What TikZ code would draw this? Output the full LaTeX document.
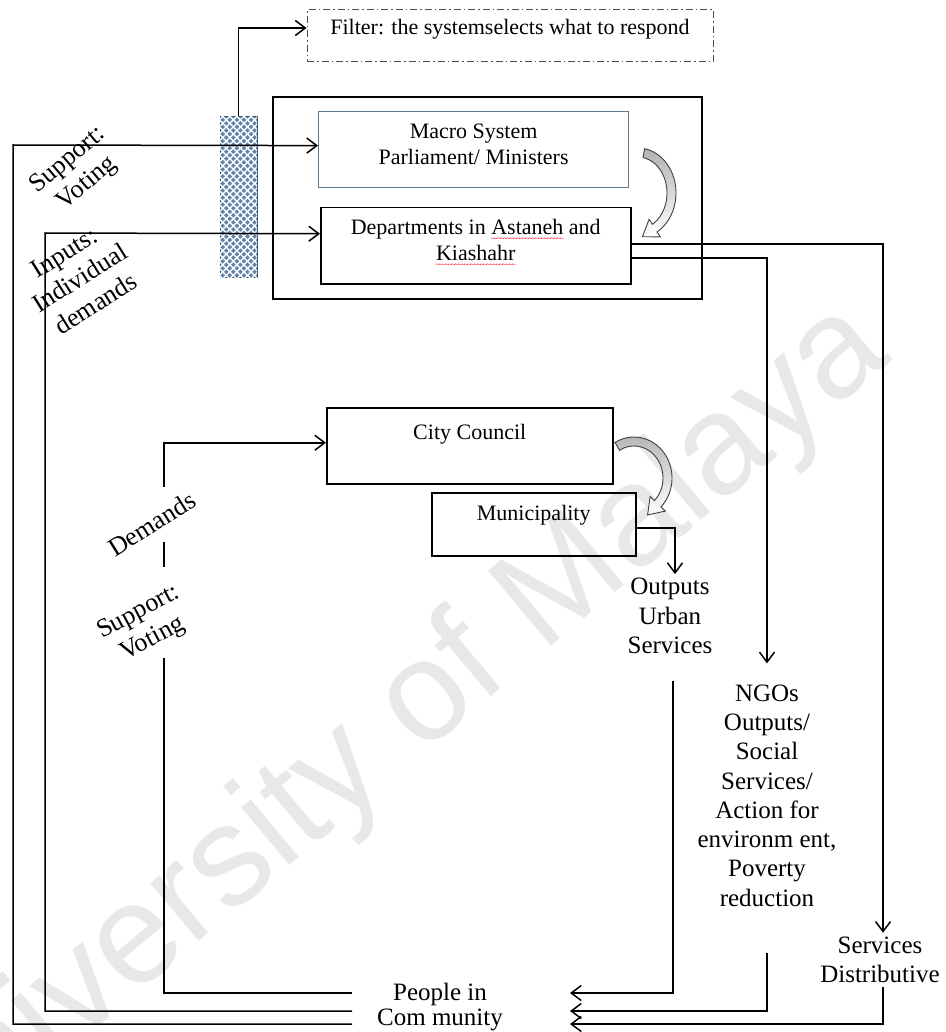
\documentclass[tikz,border=0pt]{standalone}
\usepackage{fontspec}
\setmainfont{Liberation Serif}
\newfontfamily\markfont{Liberation Sans}
\usetikzlibrary{arrows.meta,patterns.meta,calc}

% red spell-check squiggle under a word, made of repeated small tildes
\newcommand\spellwave[1]{\leavevmode\setbox0\hbox{#1}%
  \rlap{\raisebox{-7pt}[0pt][0pt]{\hbox to \wd0{\color{red}\fontsize{8}{8}\selectfont
    \xleaders\hbox{\kern-0.6pt\textasciitilde\kern-0.6pt}\hfill}}}\box0\relax}

\definecolor{barblue}{RGB}{98,132,170}
\definecolor{baredge}{RGB}{52,78,108}
\definecolor{macroedge}{RGB}{92,122,148}

\begin{document}
\begin{tikzpicture}[x=1pt,y=-1pt,
  every node/.style={inner sep=0pt},
  link/.style={line width=1.5pt, black},
  arrowlink/.style={link, -{Straight Barb[length=10pt,width=15pt]}},
  boxtext/.style={font=\fontsize{22}{26.5}\selectfont, align=center, anchor=north west},
  plainbox/.style={boxtext, draw, line width=1.5pt},
  outtext/.style={font=\fontsize{25}{29.3}\selectfont, align=center, inner sep=4pt},
  sidelabel/.style={font=\fontsize{26}{30}\selectfont, align=center},
  filterbox/.style={draw=black!70, line width=1pt,
    dash pattern=on 7pt off 3pt on 1.5pt off 3pt,
    minimum width=406pt, minimum height=52pt, text height=15pt, text depth=17pt,
    font=\fontsize{22}{26}\selectfont},
  filterbar/.style={draw=baredge, line width=1pt, fill=barblue,
    minimum width=37pt, minimum height=160pt,
    postaction={pattern={Lines[angle=45,distance=5pt,line width=1.4pt]}, pattern color=white},
    postaction={pattern={Lines[angle=-45,distance=5pt,line width=1.4pt]}, pattern color=white}},
  bentarrow/.style={draw=black!75, line width=0.9pt, top color=gray!60, bottom color=white}
]
\fill[white] (0,0) rectangle (945,1032);
\useasboundingbox (0,0) rectangle (945,1032);

% faint diagonal watermark
\node[font=\markfont\fontsize{142}{142}\selectfont, text=black!9, rotate=40] (wm) at (380,742) {University of Malaya};

% ---- upper system ----
\node[filterbox] (filter) at (510,36) {Filter: the systemselects what to respond};
\node[draw, line width=1.5pt, minimum width=429pt, minimum height=202pt] (system) at (487.5,198) {};
\node[boxtext, draw=macroedge, line width=1.2pt, minimum width=310pt, text height=53pt, text depth=23pt]
  (macro) at (318,111) {Macro System\\Parliament/ Ministers};
\node[plainbox, minimum width=310pt, text height=53pt, text depth=23pt]
  (dept) at (320,207) {Departments in \spellwave{Astaneh} and\\\spellwave{Kiashahr}};
\node[filterbar] (bar) at (238.5,197) {};

% ---- local system ----
\node[plainbox, minimum width=286pt, text height=32pt, text depth=44pt]
  (city) at (326,407) {City Council};
\node[plainbox, minimum width=204pt, text height=28pt, text depth=35pt]
  (muni) at (431,492) {Municipality};

% ---- outputs and community ----
\node[outtext] (urban) at (670,616) {Outputs\\Urban\\Services};
\node[outtext] (ngo) at (767,795.5) {NGOs\\Outputs/\\Social\\Services/\\Action for\\environm ent,\\Poverty\\reduction};
\node[outtext] (services) at (880,960) {Services\\Distributive};
\node[outtext, font=\fontsize{25}{25}\selectfont] (people) at (440,1007.5) {People in\\Com munity};

% ---- slanted labels ----
\node[sidelabel, rotate=40] (supvote) at (78,172) {Support:\\Voting};
\node[sidelabel, rotate=32] (inputs) at (80,278) {Inputs:\\Individual\\demands};
\node[sidelabel, rotate=32] (demands) at (152,524) {Demands};
\node[sidelabel, rotate=28] (supvote2) at (146,626) {Support:\\Voting};

% line ends beside the community label
\coordinate (L1) at (352,993);
\coordinate (L2) at (352,1011);
\coordinate (L3) at (352,1024);
\coordinate (R1) at (570,993);
\coordinate (R2) at (570,1011);
\coordinate (R3) at (570,1024);

% ---- feedback from the community ----
\draw[arrowlink] (L3) -| (13,145) -- ([yshift=4pt]macro.west);
\draw[arrowlink] (L2) -| (45,233) -- ([yshift=12pt]dept.west);
\draw[link] (L1) -| (164,658);
\draw[link] (164,542) -- (164,567);
\draw[arrowlink] (164,487) |- ([yshift=3pt]city.west);
\draw[arrowlink] (bar.north) |- ([yshift=8pt]filter.west);

% ---- outputs ----
\draw[arrowlink] ([yshift=2pt]dept.east) -| ([xshift=3pt]services.north);
\draw[arrowlink] ([yshift=-12pt]dept.east) -| ([yshift=17pt]ngo.north);
\draw[arrowlink] ([yshift=-3.5pt]muni.east) -| ([xshift=5pt]urban.north);
\draw[arrowlink] ([xshift=3pt,yshift=-23pt]urban.south) |- (R1);
\draw[arrowlink] ([yshift=-42pt]ngo.south) |- (R2);
\draw[arrowlink] ([xshift=3pt]services.south) |- (R3);

% ---- curved block arrows (hand-off inside each level) ----
\path[bentarrow] (644.6,148.7) arc[start angle=-80,end angle=60,x radius=38,y radius=45]
  -- (660.4,236.9) -- (642.4,236.7) -- (649.1,219.3) -- (652.5,224.2)
  arc[start angle=60,end angle=-80,x radius=29,y radius=36] -- cycle;
\path[bentarrow] (615,442.5) arc[start angle=-120,end angle=45,x radius=38,y radius=41]
  -- (665.3,511.1) -- (647.6,514.9) -- (650.1,496.5) -- (654.5,500.6)
  arc[start angle=45,end angle=-120,x radius=29,y radius=32] -- cycle;
\end{tikzpicture}
\end{document}
